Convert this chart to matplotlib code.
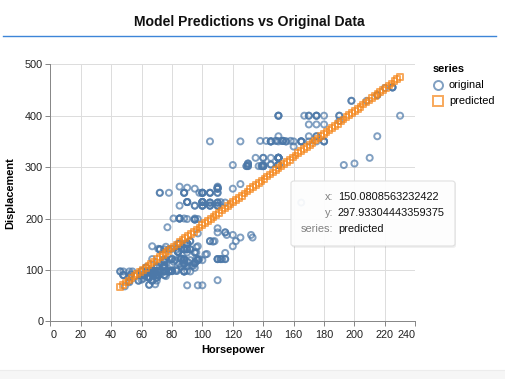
import matplotlib
matplotlib.use('Agg')
import matplotlib.pyplot as plt
from matplotlib.patches import FancyBboxPatch, Rectangle
from matplotlib.lines import Line2D

plt.rcParams['font.family'] = ['Liberation Sans', 'DejaVu Sans']

# original cars data (horsepower, displacement)
horsepower = [
    130, 165, 150, 150, 140, 198, 220, 215, 225, 190, 170, 160, 150, 225, 95, 95, 97, 85, 88, 46,
    87, 90, 95, 113, 90, 215, 200, 210, 193, 88, 90, 95, 100, 105, 100, 88, 100, 165, 175, 153,
    150, 180, 170, 175, 110, 72, 100, 88, 86, 90, 70, 76, 65, 69, 60, 70, 95, 80, 54, 90,
    86, 165, 175, 150, 153, 150, 208, 155, 160, 190, 97, 150, 130, 140, 150, 112, 76, 87, 69, 86,
    92, 97, 80, 88, 175, 150, 145, 137, 150, 198, 150, 158, 150, 215, 225, 175, 105, 100, 100, 88,
    95, 46, 150, 167, 170, 180, 100, 88, 72, 94, 90, 85, 107, 90, 145, 230, 49, 75, 91, 112,
    150, 110, 122, 180, 95, 100, 100, 67, 80, 65, 75, 100, 110, 105, 140, 150, 150, 140, 150, 83,
    67, 78, 52, 61, 75, 75, 75, 97, 93, 67, 95, 105, 72, 72, 170, 145, 150, 148, 110, 105,
    110, 95, 110, 110, 129, 75, 83, 100, 78, 96, 71, 97, 97, 70, 90, 95, 88, 98, 115, 53,
    86, 81, 92, 79, 83, 140, 150, 120, 152, 100, 105, 81, 90, 52, 60, 70, 53, 100, 78, 110,
    95, 71, 70, 75, 72, 102, 150, 88, 108, 120, 180, 145, 130, 150, 68, 80, 58, 96, 70, 145,
    110, 145, 130, 110, 105, 100, 98, 180, 170, 190, 149, 78, 88, 75, 89, 63, 83, 67, 78, 97,
    110, 110, 48, 66, 52, 70, 60, 110, 140, 139, 105, 95, 85, 88, 100, 90, 105, 85, 110, 120,
    145, 165, 139, 140, 68, 95, 97, 75, 95, 105, 85, 97, 103, 125, 115, 133, 71, 68, 115, 85,
    88, 90, 110, 130, 129, 138, 135, 155, 142, 125, 150, 71, 65, 80, 80, 77, 125, 71, 90, 70,
    70, 65, 69, 90, 115, 115, 90, 76, 60, 70, 65, 90, 88, 90, 110, 78, 90, 75, 92, 75,
    65, 105, 65, 48, 48, 67, 67, 67, 67, 62, 132, 100, 88, 72, 84, 84, 92, 110, 84, 58,
    64, 60, 67, 65, 62, 68, 63, 65, 65, 74, 75, 75, 100, 74, 80, 76, 116, 120, 110, 105,
    88, 85, 88, 88, 88, 85, 84, 90, 92, 74, 68, 68, 63, 70, 88, 75, 70, 67, 67, 67,
    110, 85, 92, 112, 96, 84, 90, 86, 52, 84, 79, 82, 115, 165, 153, 175, 175, 140, 48, 110,
]
displacement = [
    307, 350, 318, 304, 302, 429, 454, 440, 455, 390, 383, 340, 400, 455, 113, 198, 199, 200, 97, 97,
    110, 107, 104, 121, 199, 360, 307, 318, 304, 97, 140, 113, 232, 225, 250, 250, 232, 350, 400, 351,
    318, 383, 400, 400, 258, 140, 250, 250, 122, 116, 79, 88, 71, 72, 97, 91, 113, 97.5, 97, 140,
    122, 350, 400, 318, 351, 304, 429, 350, 350, 400, 70, 304, 307, 302, 318, 121, 121, 120, 96, 122,
    97, 120, 98, 97, 350, 304, 350, 302, 318, 429, 400, 351, 318, 440, 455, 360, 225, 250, 232, 250,
    198, 97, 400, 400, 360, 350, 232, 97, 140, 108, 70, 122, 155, 98, 350, 400, 68, 116, 114, 121,
    318, 121, 156, 350, 198, 232, 250, 79, 122, 71, 140, 250, 258, 225, 302, 350, 318, 302, 304, 98,
    79, 97, 76, 83, 90, 90, 116, 120, 108, 79, 225, 250, 250, 250, 400, 350, 318, 351, 231, 250,
    258, 225, 231, 262, 302, 97, 140, 232, 140, 134, 90, 119, 171, 90, 232, 115, 120, 121, 121, 91,
    107, 116, 140, 98, 101, 305, 318, 304, 351, 225, 250, 200, 232, 85, 98, 90, 91, 225, 250, 250,
    258, 97, 85, 97, 140, 130, 318, 120, 156, 168, 350, 350, 302, 318, 98, 111, 79, 122, 85, 305,
    260, 318, 302, 250, 231, 225, 250, 400, 350, 400, 351, 97, 151, 97, 140, 98, 98, 97, 97, 146,
    121, 80, 90, 98, 78, 85, 91, 260, 318, 302, 231, 200, 200, 140, 225, 232, 231, 200, 225, 258,
    305, 231, 302, 318, 98, 134, 119, 105, 134, 156, 151, 119, 131, 163, 121, 163, 89, 98, 231, 200,
    140, 232, 225, 305, 302, 351, 318, 350, 351, 267, 360, 89, 86, 98, 121, 183, 350, 141, 260, 105,
    105, 85, 91, 151, 173, 173, 151, 98, 89, 98, 86, 151, 140, 151, 225, 97, 134, 120, 119, 108,
    86, 156, 85, 90, 90, 121, 146, 91, 97, 89, 168, 70, 122, 107, 135, 151, 156, 173, 135, 79,
    86, 81, 97, 85, 89, 91, 105, 98, 98, 105, 107, 108, 119, 120, 141, 145, 168, 146, 231, 350,
    200, 225, 112, 112, 112, 112, 135, 151, 140, 105, 91, 91, 105, 98, 120, 107, 108, 91, 91, 91,
    181, 262, 156, 232, 144, 135, 151, 140, 97, 135, 120, 119, 133, 350, 351, 383, 360, 302, 97, 121,
]

# model predictions
pred_x = [
    46.00, 47.86, 49.72, 51.58, 53.43, 55.29, 57.15, 59.01, 60.87, 62.73,
    64.59, 66.44, 68.30, 70.16, 72.02, 73.88, 75.74, 77.60, 79.45, 81.31,
    83.17, 85.03, 86.89, 88.75, 90.61, 92.46, 94.32, 96.18, 98.04, 99.90,
    101.76, 103.62, 105.47, 107.33, 109.19, 111.05, 112.91, 114.77, 116.63, 118.48,
    120.34, 122.20, 124.06, 125.92, 127.78, 129.64, 131.49, 133.35, 135.21, 137.07,
    138.93, 140.79, 142.65, 144.51, 146.36, 148.22, 150.08, 151.94, 153.80, 155.66,
    157.52, 159.37, 161.23, 163.09, 164.95, 166.81, 168.67, 170.53, 172.38, 174.24,
    176.10, 177.96, 179.82, 181.68, 183.54, 185.39, 187.25, 189.11, 190.97, 192.83,
    194.69, 196.55, 198.40, 200.26, 202.12, 203.98, 205.84, 207.70, 209.56, 211.41,
    213.27, 215.13, 216.99, 218.85, 220.71, 222.57, 224.42, 226.28, 228.14, 230.00,
]
pred_y = [
    67.2, 71.3, 75.4, 79.6, 83.7, 87.8, 91.9, 96.0, 100.2, 104.3,
    108.4, 112.5, 116.6, 120.8, 124.9, 129.0, 133.1, 137.2, 141.4, 145.5,
    149.6, 153.7, 157.8, 162.0, 166.1, 170.2, 174.3, 178.4, 182.6, 186.7,
    190.8, 194.9, 199.1, 203.2, 207.3, 211.4, 215.5, 219.7, 223.8, 227.9,
    232.0, 236.1, 240.3, 244.4, 248.5, 252.6, 256.7, 260.9, 265.0, 269.1,
    273.2, 277.3, 281.5, 285.6, 289.7, 293.8, 297.9, 302.1, 306.2, 310.3,
    314.4, 318.5, 322.7, 326.8, 330.9, 335.0, 339.2, 343.3, 347.4, 351.5,
    355.6, 359.8, 363.9, 368.0, 372.1, 376.2, 380.4, 384.5, 388.6, 392.7,
    396.8, 401.0, 405.1, 409.2, 413.3, 417.4, 421.6, 425.7, 429.8, 433.9,
    438.0, 442.2, 446.3, 450.4, 454.5, 458.6, 462.8, 466.9, 471.0, 475.1,
]

x_ticks = list(range(0, 241, 20))
y_ticks = [0, 100, 200, 300, 400, 500]

W, H = 506, 379
BLUE = '#4c78a8'
ORANGE = '#f58518'


def fx(px):
    return px / W


def fy(py):
    return 1 - py / H


fig = plt.figure(figsize=(W / 100, H / 100), dpi=100)
ax = fig.add_axes([fx(50.3), fy(321.3), 365 / W, 257 / H])

ax.scatter(horsepower, displacement, s=19, facecolors='none', edgecolors=BLUE,
           linewidths=1.4, alpha=0.7, zorder=3, clip_on=False)
ax.scatter(pred_x, pred_y, s=17, marker='s', facecolors='none', edgecolors=ORANGE,
           linewidths=1.4, alpha=0.7, zorder=4, clip_on=False)

ax.set_xlim(0, 240)
ax.set_ylim(0, 500)
ax.set_xticks(x_ticks)
ax.set_yticks(y_ticks)
ax.grid(True, color='#dddddd', linewidth=0.72, zorder=0)
ax.set_axisbelow(True)
for s in ['top', 'right']:
    ax.spines[s].set_visible(False)
for s in ['left', 'bottom']:
    ax.spines[s].set_color('#888888')
    ax.spines[s].set_linewidth(0.72)
ax.tick_params(colors='#888888', labelcolor='#222222', labelsize=7.8,
               length=3.6, width=0.72, pad=1.5)
ax.tick_params(axis='x', pad=2.5)
# flush first/last x labels like vega-lite
xl = ax.get_xticklabels()
xl[0].set_horizontalalignment('left')
xl[-1].set_horizontalalignment('right')

ax.set_xlabel('Horsepower', fontsize=7.9, fontweight='bold', labelpad=4)
ax.set_ylabel('Displacement', fontsize=7.9, fontweight='bold', labelpad=7)

# title and underline
fig.text(fx(249), fy(22), 'Model Predictions vs Original Data', ha='center',
         va='center', fontsize=10.1, fontweight='bold', color='#111111')
fig.add_artist(Line2D([fx(3), fx(496)], [fy(36), fy(36)], color='#3d85d8', lw=1.0))

# legend
fig.text(fx(433), fy(69), 'series', fontsize=7.9, fontweight='bold', va='center', ha='left')
fig.add_artist(Line2D([fx(438.5)], [fy(85)], marker='o', markersize=6.5, markerfacecolor='none',
                      markeredgecolor=BLUE, markeredgewidth=1.4, alpha=0.7))
fig.add_artist(Line2D([fx(438.5)], [fy(101)], marker='s', markersize=6.5, markerfacecolor='none',
                      markeredgecolor=ORANGE, markeredgewidth=1.4, alpha=0.7))
fig.text(fx(449), fy(85), 'original', fontsize=7.9, va='center', ha='left')
fig.text(fx(449), fy(101), 'predicted', fontsize=7.9, va='center', ha='left')

# tooltip
shadow = FancyBboxPatch((fx(292), fy(248)), fx(456) - fx(292), fy(182) - fy(248),
                        boxstyle='round,pad=0,rounding_size=0.006', transform=fig.transFigure,
                        facecolor='#000000', edgecolor='none', alpha=0.06, zorder=9)
fig.add_artist(shadow)
tip = FancyBboxPatch((fx(291), fy(246)), fx(455) - fx(291), fy(181) - fy(246),
                     boxstyle='round,pad=0,rounding_size=0.006', transform=fig.transFigure,
                     facecolor='white', edgecolor='#dddddd', lw=0.8, alpha=0.92, zorder=10)
fig.add_artist(tip)
rows = [('x:', '150.0808563232422'), ('y:', '297.93304443359375'), ('series:', 'predicted')]
for i, (k, v) in enumerate(rows):
    yy = fy(197 + 16 * i)
    fig.text(fx(333), yy, k, ha='right', va='center', fontsize=7.9, color='#808080', zorder=11)
    fig.text(fx(338), yy, v, ha='left', va='center', fontsize=7.9, color='#111111', zorder=11)

# bottom strip
fig.add_artist(Rectangle((0, 0), 1, fy(370), transform=fig.transFigure,
                         facecolor='#f6f6f6', edgecolor='none'))
fig.add_artist(Line2D([0, 1], [fy(370), fy(370)], color='#ececec', lw=0.8))

fig.savefig('out.png', dpi=100)
